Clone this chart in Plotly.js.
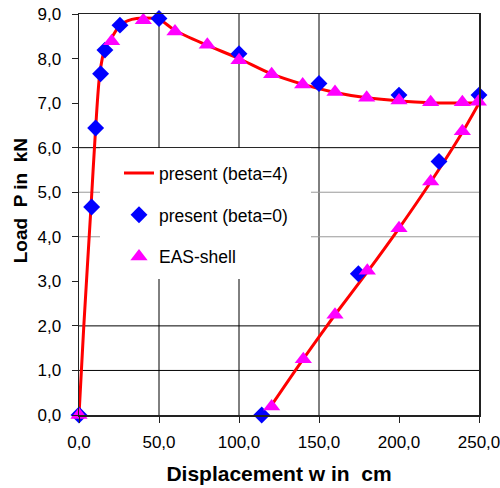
<!DOCTYPE html>
<html>
<head>
<meta charset="utf-8">
<script src="https://cdn.plot.ly/plotly-3.0.1.min.js"></script>
<style>html,body{margin:0;padding:0;background:#fff;}#chart{width:500px;height:488px;}</style>
</head>
<body>
<div id="chart"></div>
<script>
// Displacement w (cm) / Load P (kN)
var loadX = [0, 3, 7.5, 10.4, 13, 16, 21, 25.6, 33, 40, 50, 60, 80, 100, 120, 140, 160, 180, 200, 220, 240, 250];
var loadY = [0, 2.0, 4.67, 6.44, 7.66, 8.2, 8.5, 8.75, 8.88, 8.91, 8.88, 8.63, 8.3, 8.0, 7.66, 7.42, 7.24, 7.12, 7.05, 7.01, 7.0, 7.0];
var unloadX = [250, 240, 220, 200, 180, 160, 140, 119];
var unloadY = [7.0, 6.37, 5.24, 4.19, 3.2, 2.25, 1.25, 0.15];

var beta0X = [0, 7.9, 10.4, 13.5, 16.2, 25.6, 50, 100, 150, 200, 250, 225, 174.6, 114.2];
var beta0Y = [0, 4.67, 6.44, 7.66, 8.19, 8.75, 8.9, 8.11, 7.44, 7.18, 7.18, 5.69, 3.17, 0];

var easX = [0, 20.4, 40.2, 60, 80.2, 100, 120.4, 139.8, 160, 179.8, 200, 219.8, 239.6, 249.6, 239.6, 219.8, 200, 180.2, 160, 140.2, 120.4];
var easY = [0, 8.39, 8.86, 8.61, 8.31, 7.96, 7.65, 7.42, 7.25, 7.12, 7.06, 7.02, 7.02, 7.03, 6.37, 5.24, 4.19, 3.24, 2.25, 1.25, 0.19];

var seriesNames = ["present (beta=4)", "present (beta=0)", "EAS-shell"];
var xTicks = [0, 50, 100, 150, 200, 250];
var yTicks = [0, 1, 2, 3, 4, 5, 6, 7, 8, 9];
var gridXDark = [50, 100, 150];
var gridYDark = [1, 2, 6];
var gridYLight = [4, 5];

var FONT = "Liberation Sans, Arial, Helvetica, sans-serif";

var traces = [
  {x: loadX, y: loadY, mode: "lines", name: seriesNames[0], legendgroup: "a",
   line: {color: "#ff0000", width: 3, shape: "spline", smoothing: 0.8}},
  {x: unloadX, y: unloadY, mode: "lines", name: seriesNames[0], legendgroup: "a", showlegend: false,
   line: {color: "#ff0000", width: 3, shape: "spline", smoothing: 0.6}},
  {x: beta0X, y: beta0Y, mode: "markers", name: seriesNames[1], legendgroup: "b", cliponaxis: false,
   marker: {symbol: "diamond", size: 13, color: "#0000ff"}},
  {x: easX, y: easY, mode: "markers", name: seriesNames[2], legendgroup: "c", cliponaxis: false,
   marker: {symbol: "triangle-up", size: 15, color: "#ff00ff"}}
];

var shapes = [];
gridXDark.forEach(function (v) {
  shapes.push({type: "line", xref: "x", yref: "paper", x0: v, x1: v, y0: 0, y1: 1, layer: "below",
               line: {color: "#000", width: 1}});
});
gridYDark.forEach(function (v) {
  shapes.push({type: "line", xref: "paper", yref: "y", x0: 0, x1: 1, y0: v, y1: v, layer: "below",
               line: {color: "#000", width: 1}});
});
gridYLight.forEach(function (v) {
  shapes.push({type: "line", xref: "paper", yref: "y", x0: 0, x1: 1, y0: v, y1: v, layer: "below",
               line: {color: "#999", width: 1}});
});
// white legend backing panel (covers the grid like the original legend box)
shapes.push({type: "rect", xref: "paper", yref: "paper", x0: 0.0525, x1: 0.58, y0: 0.339, y1: 0.666,
             layer: "below", fillcolor: "#fff", line: {width: 0}});

var layout = {
  width: 500, height: 488,
  margin: {l: 79, r: 21, t: 14, b: 73, pad: 0},
  paper_bgcolor: "#fff", plot_bgcolor: "#fff",
  separators: ",.",
  font: {family: FONT, size: 17, color: "#000"},
  showlegend: true,
  legend: {x: 0.1, y: 0.648, xanchor: "left", yanchor: "top", bgcolor: "rgba(255,255,255,0)", borderwidth: 0,
           font: {family: FONT, size: 17.5, color: "#000"}, tracegroupgap: 16, traceorder: "grouped"},
  xaxis: {range: [0, 250], tickvals: xTicks, tickformat: ".1f", showgrid: false, zeroline: false,
          showline: true, linecolor: "#222", linewidth: 1.5, mirror: true,
          ticks: "outside", ticklen: 6, tickcolor: "#222", ticklabelstandoff: 5,
          ticklabeloverflow: "allow",
          tickfont: {family: FONT, size: 17, color: "#000"},
          title: {text: "Displacement w in\u00a0\u00a0cm", standoff: 15,
                  font: {family: FONT, size: 21, color: "#000", weight: "bold"}}},
  yaxis: {range: [0, 9], tickvals: yTicks, tickformat: ".1f", showgrid: false, zeroline: false,
          showline: true, linecolor: "#222", linewidth: 1.5, mirror: true,
          ticks: "outside", ticklen: 6, tickcolor: "#222", ticklabelstandoff: 7,
          tickfont: {family: FONT, size: 17, color: "#000"}},
  shapes: shapes,
  annotations: [
    {text: "Load\u00a0\u00a0P in\u00a0\u00a0kN", xref: "paper", yref: "paper", x: -0.1455, y: 0.535,
     xanchor: "center", yanchor: "middle", textangle: -90, showarrow: false,
     font: {family: FONT, size: 19, color: "#000", weight: "bold"}}
  ]
};

Plotly.newPlot("chart", traces, layout, {displayModeBar: false, staticPlot: true});
</script>
</body>
</html>
